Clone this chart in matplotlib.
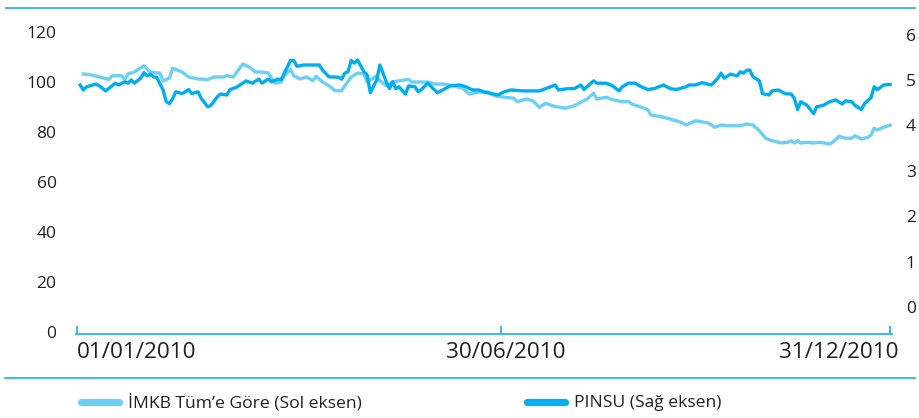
import matplotlib
matplotlib.use("Agg")
import matplotlib.pyplot as plt
import matplotlib.transforms as mtransforms
from matplotlib.lines import Line2D

plt.rcParams["font.family"] = ["Open Sans", "DejaVu Sans"]

# trading-day index (0 = first trading day of 2010) and index value (left axis)
imkb_day = [2, 4, 7, 10, 11, 14, 15, 16, 18, 21, 23, 25, 26, 27, 29, 30, 33, 35, 38, 41,
            43, 46, 47, 49, 52, 54, 56, 58, 60, 62, 64, 65, 67, 68, 70, 72, 74, 75, 77, 79,
            81, 83, 84, 86, 88, 90, 91, 94, 95, 97, 99, 101, 104, 105, 108, 110, 112, 115, 118, 121,
            123, 126, 127, 129, 131, 134, 137, 138, 141, 143, 145, 147, 149, 153, 156, 158, 160, 162, 163, 166,
            168, 171, 173, 174, 177, 179, 180, 184, 187, 189, 191, 194, 198, 200, 202, 204, 206, 208, 210, 212,
            214, 216, 218, 221, 223, 224, 225, 226, 227, 229, 231, 233, 236, 237, 239, 241, 243, 244, 246, 248,
            249, 250, 251, 253, 255]
imkb_val = [103.2, 103.0, 102.0, 101.0, 102.5, 102.5, 101.0, 103.2, 104.0, 106.5, 104.0, 103.6, 103.6, 100.4, 101.6, 105.5, 104.0, 102.0, 101.2, 101.0,
            102.0, 102.0, 102.5, 102.0, 107.2, 106.0, 104.0, 104.0, 103.6, 99.6, 100.0, 102.5, 105.0, 102.5, 101.2, 102.0, 100.5, 102.3, 100.0, 98.5,
            96.5, 96.5, 98.5, 102.0, 103.6, 103.2, 100.0, 102.5, 100.5, 98.5, 100.0, 100.5, 101.0, 100.0, 100.0, 100.0, 99.2, 99.2, 98.5, 97.5,
            95.2, 96.0, 95.9, 96.0, 94.5, 93.9, 93.5, 92.1, 93.2, 92.5, 89.9, 91.5, 90.5, 89.5, 90.5, 91.9, 93.2, 95.5, 93.2, 93.9,
            92.9, 92.1, 92.2, 91.2, 89.9, 88.9, 86.8, 85.9, 84.8, 84.1, 82.8, 84.5, 83.6, 81.9, 82.8, 82.5, 82.5, 82.5, 83.2, 82.8,
            80.5, 77.5, 76.5, 75.6, 75.9, 76.5, 75.6, 76.5, 75.6, 75.9, 75.6, 75.9, 75.2, 75.9, 78.3, 77.5, 77.5, 78.5, 77.2, 77.9,
            78.8, 81.5, 80.9, 81.9, 82.8]

# PINSU share price (right axis)
pinsu_day = [1, 2, 3, 6, 7, 9, 11, 12, 13, 15, 16, 17, 18, 20, 21, 22, 23, 24, 25, 27,
             28, 29, 30, 31, 33, 34, 35, 36, 38, 39, 41, 42, 44, 45, 47, 48, 50, 52, 53, 55,
             57, 58, 60, 61, 63, 64, 65, 67, 68, 69, 71, 73, 76, 77, 79, 82, 83, 84, 85, 86,
             87, 88, 90, 91, 92, 94, 95, 97, 98, 99, 100, 101, 103, 104, 106, 107, 108, 110, 112, 113,
             115, 117, 120, 122, 124, 126, 128, 130, 132, 134, 136, 140, 143, 145, 147, 150, 151, 154, 156, 158,
             159, 162, 163, 166, 168, 170, 171, 173, 175, 177, 179, 181, 184, 186, 188, 191, 192, 194, 196, 199,
             201, 202, 203, 205, 207, 208, 209, 210, 211, 212, 214, 215, 217, 218, 220, 222, 224, 225, 226, 227,
             229, 231, 232, 234, 236, 238, 240, 241, 243, 244, 246, 247, 249, 250, 251, 253, 255]
pinsu_val = [4.89, 4.78, 4.85, 4.91, 4.87, 4.76, 4.87, 4.93, 4.89, 4.96, 4.93, 5.00, 4.93, 5.04, 5.16, 5.09, 5.13, 5.07, 5.06, 4.78,
             4.52, 4.48, 4.59, 4.74, 4.70, 4.74, 4.79, 4.70, 4.74, 4.59, 4.41, 4.44, 4.63, 4.69, 4.67, 4.79, 4.84, 4.93, 4.98, 4.93,
             5.02, 4.93, 5.02, 4.96, 5.02, 5.00, 5.15, 5.43, 5.43, 5.30, 5.33, 5.33, 5.33, 5.22, 5.07, 5.06, 5.02, 5.15, 5.18, 5.43,
             5.37, 5.44, 5.18, 5.11, 4.72, 5.00, 5.33, 4.96, 4.81, 4.96, 4.81, 4.85, 4.69, 4.87, 4.85, 4.74, 4.79, 4.93, 4.79, 4.72,
             4.79, 4.87, 4.89, 4.85, 4.78, 4.78, 4.73, 4.70, 4.67, 4.74, 4.78, 4.76, 4.76, 4.76, 4.81, 4.89, 4.78, 4.81, 4.81, 4.89,
             4.79, 4.98, 4.93, 4.93, 4.87, 4.76, 4.85, 4.93, 4.93, 4.85, 4.79, 4.81, 4.89, 4.81, 4.79, 4.85, 4.89, 4.89, 4.94, 4.89,
             5.04, 5.15, 5.04, 5.13, 5.09, 5.18, 5.15, 5.21, 5.22, 5.07, 4.98, 4.70, 4.67, 4.76, 4.78, 4.70, 4.69, 4.59, 4.35, 4.52,
             4.44, 4.26, 4.41, 4.44, 4.52, 4.56, 4.47, 4.54, 4.52, 4.44, 4.35, 4.48, 4.61, 4.85, 4.79, 4.89, 4.90]

tick_days = [0, 133, 255]
tick_labels = ["01/01/2010", "30/06/2010", "31/12/2010"]
left_ticks = [0, 20, 40, 60, 80, 100, 120]
right_ticks = [0, 1, 2, 3, 4, 5, 6]
legend_labels = ["İMKB Tüm’e Göre (Sol eksen)", "PINSU (Sağ eksen)"]

LIGHT = "#6dcff6"
DARK = "#00aeef"
RULE = "#2cb5e8"
TEXT = "#231f20"

W, H = 920, 418
fig = plt.figure(figsize=(W / 100, H / 100), dpi=100)

# axes box in pixels: x 76..892, y 32..334 (from top)
ax = fig.add_axes([76 / W, (H - 334) / H, 816 / W, 302 / H])
ax.plot(imkb_day, imkb_val, color=LIGHT, lw=2.4, solid_joinstyle="round")
ax.set_xlim(-0.3, 255.6)
ax.set_ylim(-0.8, 120)
ax.set_yticks(left_ticks)
ax.tick_params(axis="y", length=0, labelsize=12.5, labelcolor=TEXT, pad=14)

ax2 = ax.twinx()
ax2.plot(pinsu_day, pinsu_val, color=DARK, lw=2.4, solid_joinstyle="round")
ax2.set_ylim(-0.595, 6.057)
ax2.set_yticks(right_ticks)
ax2.tick_params(axis="y", length=0, labelsize=12.5, labelcolor=TEXT, pad=10)

for a in (ax, ax2):
    for side in ("top", "left", "right"):
        a.spines[side].set_visible(False)
ax2.spines["bottom"].set_visible(False)
ax.spines["bottom"].set_color(RULE)
ax.spines["bottom"].set_linewidth(1.3)

ax.set_xticks(tick_days)
ax.set_xticklabels(tick_labels)
ax.tick_params(axis="x", direction="in", length=6, width=1.3, color=RULE,
               labelsize=16.2, labelcolor=TEXT, pad=6)
xt = ax.get_xticklabels()
xt[0].set_ha("left")
xt[2].set_ha("right")
# the source nudges the last two dates a little to the right of their ticks
for lbl, dx in [(xt[1], 5), (xt[2], 8)]:
    lbl.set_transform(lbl.get_transform() +
                      mtransforms.ScaledTranslation(dx / 100, 0, fig.dpi_scale_trans))

# top and bottom rules
fig.add_artist(Line2D([6 / W, 915 / W], [(H - 8) / H] * 2, color=RULE, lw=1.3))
fig.add_artist(Line2D([5 / W, 915 / W], [(H - 378) / H] * 2, color=RULE, lw=1.3))

# legend
for x0, col, lab in [(77, LIGHT, legend_labels[0]), (523, DARK, legend_labels[1])]:
    fig.add_artist(Line2D([(x0 + 4) / W, (x0 + 42) / W], [(H - 401.5) / H] * 2,
                          color=col, lw=5.2, solid_capstyle="round"))
    fig.text((x0 + 51) / W, (H - 403) / H, lab, fontsize=12.6, color=TEXT,
             ha="left", va="center")

fig.savefig("out.png", dpi=100)
